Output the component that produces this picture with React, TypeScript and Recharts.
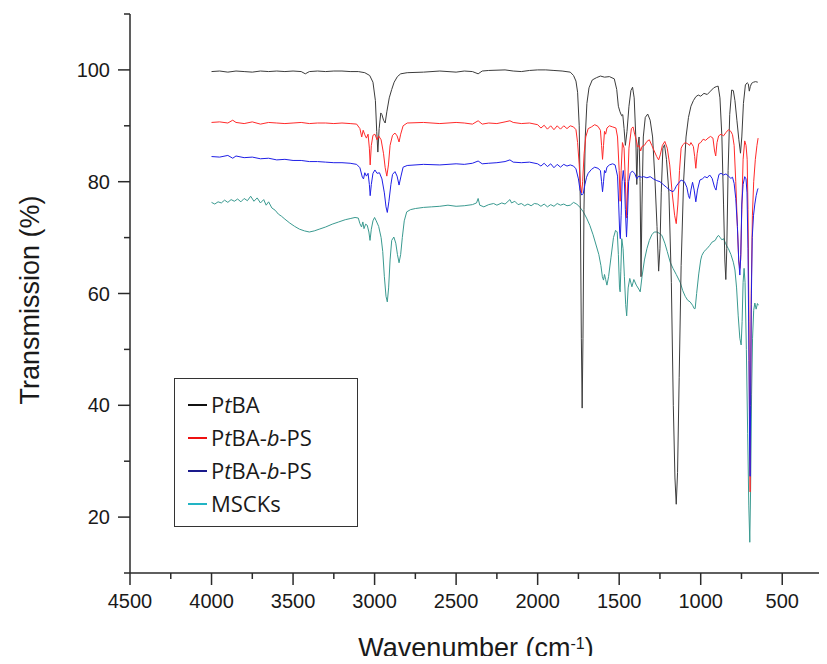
import { Label, Legend, Line, LineChart, XAxis, YAxis } from "recharts";

// FTIR spectra, wavenumber (cm-1) vs transmission (%)
const ptba: [number, number][] = [
  [4000, 99.7], [3950, 99.8], [3900, 99.6], [3850, 99.8], [3800, 99.7], [3750, 99.6], [3700, 99.8],
  [3650, 99.7], [3600, 99.8], [3550, 99.7], [3500, 99.8], [3450, 99.7], [3425, 99.3], [3400, 99.7],
  [3350, 99.8], [3300, 99.7], [3250, 99.8], [3200, 99.8], [3150, 99.7], [3100, 99.7], [3060, 99.5],
  [3030, 99.0], [3010, 97.8], [2995, 94.5], [2987, 89], [2980, 85.3], [2972, 89.5], [2962, 92.3],
  [2955, 92.0], [2945, 91], [2935, 90.5], [2925, 92.5], [2910, 95], [2895, 96.5], [2880, 97.8],
  [2860, 98.8], [2840, 99.3], [2800, 99.5], [2700, 99.6], [2600, 99.8], [2500, 99.6], [2450, 99.8],
  [2400, 99.7], [2365, 99.3], [2340, 99.8], [2300, 99.9], [2200, 100], [2150, 99.8], [2100, 99.7],
  [2050, 99.9], [2000, 100], [1950, 100], [1900, 99.9], [1850, 99.8], [1800, 99.6], [1780, 99.0],
  [1765, 98], [1755, 96], [1745, 90], [1738, 75], [1732, 52], [1727, 39.5], [1722, 52], [1716, 75],
  [1708, 88], [1698, 94], [1685, 96.8], [1665, 98.2], [1640, 98.6], [1615, 98.9], [1590, 98.7],
  [1560, 98.8], [1530, 98.4], [1515, 96.5], [1505, 93.5], [1495, 92.5], [1485, 91.8], [1478, 92],
  [1470, 89.5], [1462, 86.5], [1452, 89], [1440, 93.5], [1428, 96.3], [1418, 96.9], [1408, 95],
  [1398, 88], [1392, 79.5], [1386, 86], [1378, 88], [1372, 80], [1366, 63], [1360, 76], [1352, 88],
  [1340, 91.5], [1325, 92.1], [1310, 91], [1295, 88], [1280, 80], [1268, 72], [1258, 64], [1250, 68],
  [1242, 78], [1232, 86], [1222, 86.6], [1210, 84], [1195, 78], [1180, 62], [1168, 40], [1158, 27],
  [1150, 22.3], [1142, 28], [1132, 45], [1120, 65], [1105, 80], [1090, 88], [1075, 91.5], [1060, 93.5],
  [1045, 94.5], [1030, 95.2], [1015, 95.5], [1000, 95.3], [980, 95.8], [960, 95.6], [940, 96.2],
  [920, 96.8], [905, 97], [893, 97.1], [882, 95], [870, 88], [860, 76], [852, 66], [846, 62.5],
  [840, 68], [832, 82], [822, 92], [810, 96.4], [800, 96.3], [790, 94.5], [778, 91], [766, 87.5],
  [756, 85.1], [748, 88], [738, 94], [726, 97.3], [715, 97.7], [708, 97.5], [702, 96.2], [696, 97],
  [688, 97.6], [676, 97.8], [664, 97.9], [650, 97.8],
];

const ptbaPs1: [number, number][] = [
  [4000, 90.6], [3950, 90.7], [3900, 90.5], [3870, 91.0], [3850, 90.6], [3800, 90.4], [3750, 90.7],
  [3700, 90.3], [3650, 90.6], [3600, 90.5], [3550, 90.4], [3500, 90.5], [3450, 90.6], [3400, 90.4],
  [3350, 90.5], [3300, 90.5], [3250, 90.4], [3200, 90.5], [3150, 90.4], [3110, 90.3], [3090, 89.5],
  [3079, 88], [3070, 89.2], [3060, 88.4], [3050, 87.8], [3040, 88.5], [3032, 86], [3027, 83],
  [3020, 86.5], [3010, 88.3], [2998, 88.5], [2985, 87.5], [2975, 88.2], [2960, 87.5], [2945, 85],
  [2935, 82.5], [2925, 81], [2915, 83], [2905, 86.5], [2890, 88.3], [2875, 88.7], [2862, 88.2],
  [2850, 87.1], [2840, 88.5], [2825, 90], [2800, 90.5], [2700, 90.6], [2600, 90.4], [2500, 90.6],
  [2450, 90.5], [2400, 90.3], [2365, 90.9], [2340, 90.3], [2300, 90.5], [2250, 90.4], [2200, 90.7],
  [2170, 90.9], [2150, 90.6], [2100, 90.4], [2050, 90.5], [2000, 90.2], [1980, 89.6], [1960, 90.1],
  [1940, 89.4], [1920, 90.0], [1900, 89.3], [1880, 90.0], [1860, 89.4], [1840, 90.0], [1820, 89.5],
  [1800, 90.0], [1780, 89.8], [1765, 89.3], [1755, 87], [1745, 83], [1738, 79.5], [1730, 78],
  [1724, 80], [1715, 85], [1705, 88], [1690, 89.5], [1670, 89.8], [1650, 90.2], [1630, 89.9],
  [1615, 89.2], [1608, 86.5], [1602, 84], [1596, 86.5], [1590, 89.0], [1583, 88.5], [1575, 89.6],
  [1560, 90.0], [1540, 89.8], [1520, 89.6], [1510, 88], [1500, 82], [1494, 76.5], [1488, 82],
  [1480, 87], [1470, 86], [1462, 80], [1454, 73.5], [1447, 80], [1440, 86], [1425, 89.5],
  [1415, 89.8], [1405, 88.5], [1395, 87.5], [1388, 86.2], [1378, 86.5], [1368, 85.5], [1360, 86.3],
  [1345, 86.5], [1330, 87.2], [1315, 87.5], [1300, 86.5], [1285, 85.5], [1270, 84.5], [1258, 83.9],
  [1248, 84.8], [1235, 86.5], [1220, 87.2], [1205, 86], [1190, 83], [1175, 78], [1160, 74],
  [1150, 72.5], [1140, 76], [1130, 82], [1120, 86], [1110, 86.6], [1095, 87], [1080, 86.8],
  [1068, 86.5], [1060, 87], [1045, 86.3], [1037, 84.5], [1030, 82.4], [1022, 85], [1012, 86.8],
  [1000, 87.0], [985, 87.6], [970, 87.4], [955, 87.8], [940, 88.1], [925, 87.8], [915, 85.5],
  [908, 84.6], [900, 87], [890, 88.2], [875, 88.5], [860, 88.2], [845, 88.8], [830, 89.3],
  [815, 89.0], [805, 88.4], [795, 86.5], [785, 80], [775, 72], [767, 66], [760, 64.5], [755, 66],
  [748, 75], [740, 84], [730, 87.3], [722, 86.5], [715, 84], [710, 75], [704, 55], [699, 30],
  [697, 24.5], [694, 40], [690, 60], [683, 74], [675, 80], [665, 84], [655, 86.5], [648, 87.8],
];

const ptbaPs2: [number, number][] = [
  [4000, 84.5], [3950, 84.4], [3900, 84.7], [3870, 84.2], [3850, 84.6], [3800, 84.3], [3750, 84.4],
  [3700, 84.1], [3650, 84.2], [3600, 83.9], [3550, 84.0], [3500, 83.8], [3450, 83.8], [3400, 83.6],
  [3350, 83.6], [3300, 83.5], [3250, 83.4], [3200, 83.4], [3150, 83.3], [3110, 83.1], [3090, 82.5],
  [3075, 80.8], [3068, 80.5], [3060, 81.6], [3050, 81.0], [3040, 81.5], [3032, 79.5], [3027, 77.5],
  [3020, 79.5], [3010, 81.5], [2998, 82.1], [2985, 81.5], [2970, 81.6], [2955, 80.5], [2940, 78],
  [2930, 75.5], [2922, 74.5], [2912, 76.5], [2900, 79.5], [2890, 81.3], [2875, 81.8], [2862, 81.0],
  [2850, 79.4], [2838, 81], [2825, 82.6], [2800, 82.9], [2700, 83.1], [2600, 83.0], [2500, 83.2],
  [2450, 83.1], [2400, 83.3], [2365, 83.7], [2340, 83.2], [2300, 83.3], [2250, 83.4], [2200, 83.6],
  [2170, 83.9], [2150, 83.5], [2100, 83.4], [2050, 83.5], [2000, 83.2], [1980, 82.8], [1960, 83.3],
  [1940, 82.7], [1920, 83.2], [1900, 82.5], [1880, 83.1], [1860, 82.6], [1840, 83.1], [1820, 82.8],
  [1800, 83.0], [1780, 82.8], [1765, 82.3], [1750, 80.5], [1740, 78.5], [1730, 77.6], [1720, 77.9],
  [1710, 79.5], [1700, 80.8], [1690, 81.5], [1670, 82.2], [1650, 82.6], [1630, 82.4], [1615, 82.0],
  [1608, 80], [1602, 78.2], [1596, 80], [1590, 82.0], [1583, 81.6], [1575, 82.6], [1560, 83.0],
  [1540, 83.2], [1525, 83.0], [1510, 81], [1503, 76], [1497, 71], [1493, 69.8], [1488, 74],
  [1482, 80], [1475, 82], [1468, 80], [1462, 75], [1455, 70.1], [1449, 74], [1442, 80], [1432, 81.5],
  [1420, 81.9], [1405, 81.5], [1392, 80.5], [1380, 81.0], [1365, 80.8], [1350, 80.9], [1330, 80.7],
  [1310, 80.9], [1290, 80.5], [1270, 80.2], [1250, 80.0], [1230, 79.5], [1210, 79.0], [1190, 78.5],
  [1170, 78.2], [1160, 78.6], [1150, 79.2], [1140, 79.6], [1120, 80.3], [1100, 80.0], [1085, 79],
  [1075, 77.5], [1068, 77], [1060, 78.5], [1050, 79.9], [1040, 78.5], [1030, 76.4], [1020, 78.5],
  [1005, 80.3], [990, 80.5], [975, 80.9], [960, 80.7], [945, 81.2], [930, 80.6], [915, 79],
  [906, 78.5], [898, 80], [888, 81.3], [875, 81.5], [860, 81.2], [845, 81.4], [830, 81.0],
  [815, 80.6], [805, 80.8], [795, 79.7], [785, 77], [775, 72], [767, 66], [760, 63.3], [754, 67],
  [748, 76], [740, 79.5], [730, 80.9], [722, 80.5], [716, 78], [710, 68], [704, 48], [700, 32],
  [697, 27.3], [694, 40], [690, 58], [684, 70], [676, 74], [668, 76], [660, 77.5], [652, 78.5],
  [648, 78.8],
];

const mscks: [number, number][] = [
  [4000, 76.3], [3980, 76.0], [3960, 76.4], [3940, 76.2], [3920, 76.7], [3900, 76.3], [3880, 76.8],
  [3860, 76.5], [3840, 76.9], [3820, 76.4], [3800, 77.0], [3780, 76.6], [3760, 77.4], [3740, 76.5],
  [3720, 77.1], [3700, 76.2], [3680, 76.8], [3665, 75.8], [3650, 76.4], [3630, 75.3], [3610, 74.9],
  [3590, 74.2], [3570, 73.8], [3550, 73.3], [3520, 72.6], [3490, 72.0], [3460, 71.5], [3430, 71.2],
  [3400, 71.0], [3370, 71.2], [3340, 71.5], [3300, 71.9], [3260, 72.4], [3220, 72.8], [3180, 73.2],
  [3150, 73.4], [3120, 73.6], [3100, 73.5], [3090, 72.5], [3080, 71.9], [3072, 72.8], [3065, 71.6],
  [3055, 72.4], [3045, 72.2], [3035, 71], [3028, 69.5], [3020, 71.5], [3010, 73], [3000, 73.6],
  [2990, 73.0], [2975, 72], [2960, 70], [2950, 67.5], [2940, 63], [2930, 59.5], [2922, 58.5],
  [2914, 61], [2905, 66], [2895, 69.5], [2882, 70.1], [2870, 69], [2860, 67], [2850, 65.5],
  [2840, 67], [2830, 70], [2818, 73], [2803, 74.6], [2780, 75.0], [2750, 75.2], [2700, 75.4],
  [2650, 75.5], [2600, 75.6], [2550, 75.8], [2500, 75.6], [2450, 75.7], [2400, 75.9], [2375, 76.2],
  [2365, 77.0], [2355, 75.8], [2330, 75.5], [2300, 75.9], [2270, 76.1], [2250, 75.8], [2220, 76.2],
  [2200, 76.0], [2170, 76.8], [2160, 76.2], [2140, 76.5], [2120, 75.9], [2100, 76.1], [2080, 75.7],
  [2060, 76.0], [2040, 75.7], [2020, 76.1], [2000, 76.0], [1980, 75.6], [1960, 76.0], [1940, 75.5],
  [1920, 75.9], [1900, 75.6], [1880, 76.1], [1860, 75.8], [1840, 76.0], [1820, 75.7], [1800, 75.8],
  [1780, 76.3], [1760, 76.0], [1740, 75.4], [1720, 74.6], [1700, 73.5], [1680, 72.2], [1660, 70.5],
  [1640, 68.5], [1625, 67], [1612, 65], [1603, 63], [1596, 62.4], [1590, 63.4], [1583, 62.5],
  [1575, 61.5], [1565, 63], [1550, 66.5], [1535, 70], [1522, 71.3], [1512, 71.0], [1505, 67],
  [1498, 61], [1494, 60.3], [1490, 64], [1484, 69.8], [1476, 68], [1468, 63], [1460, 58], [1454, 56],
  [1445, 61], [1435, 62.7], [1422, 61.2], [1410, 62.5], [1395, 61.5], [1380, 60.8], [1371, 60.3],
  [1360, 63], [1345, 66], [1330, 68], [1315, 69.5], [1300, 70.5], [1285, 71], [1269, 71],
  [1255, 70.8], [1238, 70.4], [1220, 69], [1205, 67.5], [1187, 65.6], [1170, 64.5], [1150, 63.4],
  [1126, 62], [1110, 60.5], [1095, 59.5], [1080, 58.8], [1065, 58.5], [1050, 57.9], [1040, 57.3],
  [1034, 57.3], [1025, 60], [1012, 63.5], [1000, 66], [993, 66.8], [980, 67.5], [962, 68],
  [945, 68.6], [930, 69.2], [911, 69.5], [900, 70.1], [891, 70.4], [880, 70], [870, 69.6],
  [860, 69.8], [848, 69], [840, 68.5], [830, 68], [815, 67], [800, 65.6], [790, 64.2], [780, 61],
  [770, 56], [760, 52], [752, 50.8], [746, 55], [740, 62], [734, 64.5], [728, 62], [720, 50],
  [712, 35], [705, 22], [699, 15.5], [694, 25], [688, 42], [682, 52], [675, 57], [668, 58.3],
  [660, 57.2], [652, 58.2], [646, 57.9],
];

const seriesNames = ["PtBA", "PtBA-b-PS", "PtBA-b-PS", "MSCKs"];
const lineColors = ["#3c3c3c", "#ff2a2a", "#1f1fe6", "#3a9a90"];
const legendColors = ["#111111", "#ee1111", "#1a1a8c", "#22b4c4"];

const xTicks = [4500, 4250, 4000, 3750, 3500, 3250, 3000, 2750, 2500, 2250, 2000, 1750, 1500, 1250, 1000, 750, 500, 250];
const yTicks = [10, 20, 30, 40, 50, 60, 70, 80, 90, 100, 110];

const toRows = (pts: [number, number][]) => pts.map(([wn, t]) => ({ wn, t }));

const AXIS = "#2a2a2a";
const tickFont = { fontFamily: "'Liberation Sans', Arial, sans-serif", fontSize: 20, fill: "#1a1a1a" };
const titleFont = { fontFamily: "'Liberation Sans', Arial, sans-serif", fontSize: 27, fill: "#1a1a1a" };

function XTick({ x, y, payload }: any) {
  const major = payload.value % 500 === 0;
  return (
    <g>
      <line x1={x} x2={x} y1={y} y2={y + (major ? 12 : 6)} stroke={AXIS} strokeWidth={1.5} />
      {major && (
        <text x={x} y={y + 28} dy="0.35em" textAnchor="middle" {...tickFont}>
          {payload.value}
        </text>
      )}
    </g>
  );
}

function YTick({ x, y, payload }: any) {
  const major = payload.value % 20 === 0;
  return (
    <g>
      <line x1={x} x2={x - (major ? 12 : 6)} y1={y} y2={y} stroke={AXIS} strokeWidth={1.5} />
      {major && (
        <text x={x - 20} y={y} dy="0.35em" textAnchor="end" {...tickFont}>
          {payload.value}
        </text>
      )}
    </g>
  );
}

function LegendName({ name }: { name: string }) {
  const parts = name.split("-");
  if (!name.startsWith("Pt")) return <>{name}</>;
  return (
    <>
      P<i>t</i>BA
      {parts.length === 3 && (
        <>
          -<i>b</i>-{parts[2]}
        </>
      )}
    </>
  );
}

function LegendBox() {
  return (
    <div
      style={{
        boxSizing: "border-box",
        width: 184,
        height: 149,
        border: "1px solid #333",
        background: "#fff",
        paddingTop: 9,
        fontFamily: "'Open Sans', 'Noto Sans', sans-serif",
        fontSize: 22,
        color: "#1a1a1a",
      }}
    >
      {seriesNames.map((name, i) => (
        <div key={i} style={{ height: 33, display: "flex", alignItems: "center" }}>
          <span style={{ display: "inline-block", width: 19, height: 2, marginLeft: 13, marginRight: 4, background: legendColors[i] }} />
          <span style={{ lineHeight: "33px" }}>
            <LegendName name={name} />
          </span>
        </div>
      ))}
    </div>
  );
}

export default function App() {
  const sets = [ptba, ptbaPs1, ptbaPs2, mscks].map(toRows);
  // drawing order: teal at the back, blue on top
  const order = [3, 0, 1, 2];
  return (
    <div style={{ width: 819, height: 656, marginBottom: -8, background: "#fff" }}>
      <LineChart width={819} height={656} margin={{ top: 6, right: 4, bottom: 0, left: 0 }}>
        <XAxis
          dataKey="wn"
          type="number"
          domain={[250, 4500]}
          reversed
          allowDataOverflow
          ticks={xTicks}
          interval={0}
          height={91}
          tickSize={0}
          tickMargin={0}
          tickLine={false}
          tick={<XTick />}
          axisLine={{ stroke: AXIS, strokeWidth: 1.5 }}
        >
          <Label
            content={() => (
              <text x={468} y={640} dy="0.35em" textAnchor="middle" {...titleFont}>
                Wavenumber (cm
                <tspan fontSize={16} baselineShift="super">
                  -1
                </tspan>
                )
              </text>
            )}
          />
        </XAxis>
        <YAxis
          type="number"
          domain={[10, 110]}
          allowDataOverflow
          ticks={yTicks}
          interval={0}
          width={122}
          tickSize={0}
          tickMargin={0}
          tickLine={false}
          tick={<YTick />}
          axisLine={{ stroke: AXIS, strokeWidth: 1.5 }}
        >
          <Label
            content={() => (
              <text x={22} y={292} dy="0.35em" textAnchor="middle" transform="rotate(-90 22 292)" {...titleFont}>
                Transmission (%)
              </text>
            )}
          />
        </YAxis>
        {order.map((i) => (
          <Line
            key={i}
            data={sets[i]}
            dataKey="t"
            name={seriesNames[i]}
            type="linear"
            stroke={lineColors[i]}
            strokeWidth={1}
            dot={false}
            activeDot={false}
            isAnimationActive={false}
          />
        ))}
        <Legend
          layout="vertical"
          align="center"
          verticalAlign="middle"
          content={<LegendBox />}
          wrapperStyle={{ position: "absolute", left: 166, top: 370, width: 184, height: 149 }}
        />
      </LineChart>
    </div>
  );
}
